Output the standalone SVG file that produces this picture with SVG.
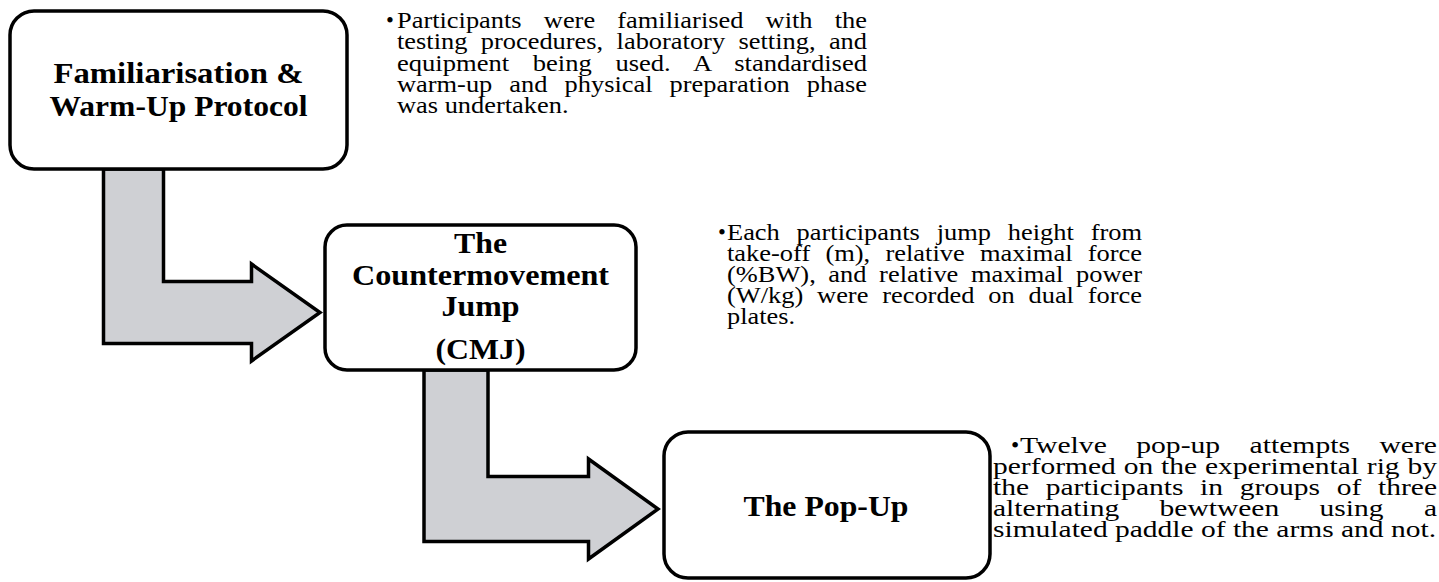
<svg xmlns="http://www.w3.org/2000/svg" width="1439" height="582" viewBox="0 0 1439 582">
<style>
.box{fill:#fff;stroke:#000;stroke-width:3.5}
.arrow{fill:#cfd0d4;stroke:#000;stroke-width:3.5;stroke-linejoin:miter;stroke-miterlimit:10}
.title{font-family:"Liberation Serif","Times New Roman",serif;font-weight:bold;font-size:29px;text-anchor:middle;fill:#000}
.body{font-family:"Liberation Serif","Times New Roman",serif;font-size:22.5px;fill:#000}
.body3{font-family:"Liberation Serif","Times New Roman",serif;font-size:23.5px;fill:#000}
</style>
<rect width="1439" height="582" fill="#fff"/>
<g id="connectors">
<polygon class="arrow" points="103.5,169 163.5,169 163.5,281.5 251.5,281.5 251.5,264 320,312.5 251.5,361 251.5,343.5 103.5,343.5"/>
<polygon class="arrow" points="424,370 488,370 488,476.5 588.5,476.5 588.5,459 658,509 588.5,559 588.5,541.5 424,541.5"/>
</g>
<g id="node-familiarisation">
<rect class="box" x="10" y="11" width="337" height="158" rx="24"/>
<text class="title" x="178.5" y="83" textLength="250" lengthAdjust="spacingAndGlyphs">Familiarisation &amp;</text>
<text class="title" x="178.5" y="116" textLength="258" lengthAdjust="spacingAndGlyphs">Warm-Up Protocol</text>
</g>
<g id="node-cmj">
<rect class="box" x="325" y="225" width="311" height="145" rx="22"/>
<text class="title" x="480.5" y="253" textLength="53" lengthAdjust="spacingAndGlyphs">The</text>
<text class="title" x="480.5" y="285" textLength="257" lengthAdjust="spacingAndGlyphs">Countermovement</text>
<text class="title" x="480.5" y="316" textLength="78" lengthAdjust="spacingAndGlyphs">Jump</text>
<text class="title" x="480.5" y="359" textLength="90" lengthAdjust="spacingAndGlyphs">(CMJ)</text>
</g>
<g id="node-popup">
<rect class="box" x="664" y="432" width="326" height="146" rx="24"/>
<text class="title" x="826" y="516" textLength="165" lengthAdjust="spacingAndGlyphs">The Pop-Up</text>
</g>
<g id="note-familiarisation">
<text class="body" x="386" y="28">•</text>
<text class="body" x="397" y="28" word-spacing="13.3" textLength="470" lengthAdjust="spacingAndGlyphs">Participants were familiarised with the</text>
<text class="body" x="397" y="49.3" word-spacing="5.8" textLength="470" lengthAdjust="spacingAndGlyphs">testing procedures, laboratory setting, and</text>
<text class="body" x="397" y="70.6" word-spacing="14.4" textLength="470" lengthAdjust="spacingAndGlyphs">equipment being used. A standardised</text>
<text class="body" x="397" y="92" word-spacing="8.9" textLength="470" lengthAdjust="spacingAndGlyphs">warm-up and physical preparation phase</text>
<text class="body" x="397" y="113" textLength="171.5" lengthAdjust="spacingAndGlyphs">was undertaken.</text>
</g>
<g id="note-cmj">
<text class="body" x="718" y="239.5">•</text>
<text class="body" x="727" y="239.5" word-spacing="8.7" textLength="415" lengthAdjust="spacingAndGlyphs">Each participants jump height from</text>
<text class="body" x="727" y="260.8" word-spacing="7.3" textLength="415" lengthAdjust="spacingAndGlyphs">take-off (m), relative maximal force</text>
<text class="body" x="727" y="282" word-spacing="5.1" textLength="415" lengthAdjust="spacingAndGlyphs">(%BW), and relative maximal power</text>
<text class="body" x="727" y="303" word-spacing="6.1" textLength="415" lengthAdjust="spacingAndGlyphs">(W/kg) were recorded on dual force</text>
<text class="body" x="727" y="323.5" textLength="68" lengthAdjust="spacingAndGlyphs">plates.</text>
</g>
<g id="note-popup">
<text class="body3" x="1011" y="453">•</text>
<text class="body3" x="1020" y="453" word-spacing="17.4" textLength="417" lengthAdjust="spacingAndGlyphs">Twelve pop-up attempts were</text>
<text class="body3" x="993" y="474" word-spacing="0.4" textLength="444" lengthAdjust="spacingAndGlyphs">performed on the experimental rig by</text>
<text class="body3" x="993" y="495" word-spacing="7.4" textLength="444" lengthAdjust="spacingAndGlyphs">the participants in groups of three</text>
<text class="body3" x="993" y="516" word-spacing="26.3" textLength="444" lengthAdjust="spacingAndGlyphs">alternating bewtween using a</text>
<text class="body3" x="993" y="537" textLength="443" lengthAdjust="spacingAndGlyphs">simulated paddle of the arms and not.</text>
</g>
</svg>
